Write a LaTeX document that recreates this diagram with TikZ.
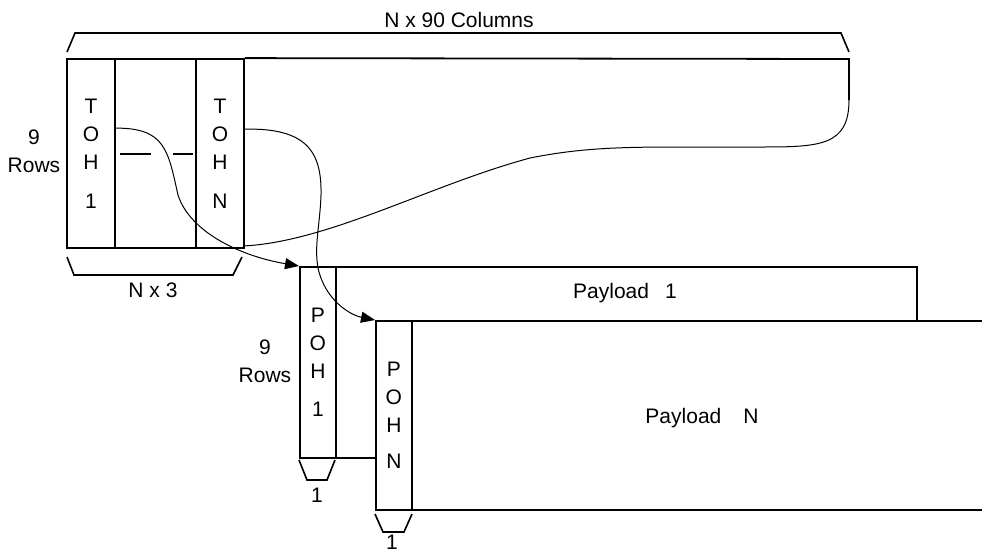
\documentclass[tikz,border=0pt]{standalone}
\usepackage{fontspec}
\setmainfont{Liberation Sans}
\usetikzlibrary{arrows.meta}
\begin{document}
\begin{tikzpicture}[x=1pt,y=-1pt,
  box/.style={draw,line width=1.8pt,inner sep=0pt},
  lbl/.style={font=\fontsize{21}{28}\selectfont,inner sep=0pt,align=center},
  brk/.style={line width=1.6pt},
  link/.style={line width=1pt},
  arr/.style={link,-{Triangle[length=14pt,width=11pt]}}]
\useasboundingbox (0,0) rectangle (982,552);
% ---- TOH block ----
\node[box,minimum width=177pt,minimum height=189pt] (toh) at (155.5,153.5) {};
\node[box,lbl,minimum width=48pt,minimum height=189pt] (toh1) at (91,153.5) {T\\O\\H\\[11pt]1};
\node[box,lbl,minimum width=48pt,minimum height=189pt] (tohn) at (220,153.5) {T\\O\\H\\[11pt]N};
\coordinate (frtr) at (849,59);
\coordinate (frr) at (849,100);
\draw[line width=1.8pt] (tohn.north east) -- (frtr) -- (frr);
\draw[link] (frr) .. controls (849,146) and (820,147) .. (760,147) -- (680,147)
  .. controls (620,147) and (580,148) .. (530,158)
  .. controls (430,185) and (330,241) .. ([yshift=3pt]tohn.south east);
% dashes
\draw[line width=1.8pt] (120,154) -- (151,154) (173,154) -- (193,154);
% brackets
\draw[brk] (67,52) -- (75,33) -- (841,33) -- (849,52);
\node[lbl] (cols) at (459,20) {N x 90 Columns};
\draw[brk] (67,257) -- (74,275) -- (233,275) -- (242,257);
\node[lbl] (nx3) at (153,290) {N x 3};
\node[lbl] (rows1) at (34,151) {9\\Rows};
% ---- payloads ----
\node[box,anchor=north west,minimum width=617pt,minimum height=191pt] (pl1) at (299,266) {};
\node[box,lbl,anchor=north west,minimum width=36pt,minimum height=191pt] (poh1) at (299,266) {P\\O\\H\\[10pt]1};
\node[box,fill=white,anchor=north west,minimum width=640pt,minimum height=189pt] (pln) at (375,320) {};
\node[box,lbl,anchor=north west,minimum width=36pt,minimum height=189pt] (pohn) at (375,320) {P\\O\\H\\[8pt]N};
\node[lbl] (pl1t) at (625,293) {Payload\hspace{16pt}1};
\node[lbl] (plnt) at (702,418) {Payload\hspace{22pt}N};
\node[lbl] (rows2) at (265,361.5) {9\\Rows};
\draw[brk] (299,460) -- (307,480) -- (327,480) -- (335,460);
\node[lbl] (one1) at (317,495) {1};
\draw[brk] (375,514) -- (383,532) -- (404,532) -- (412,514);
\node[lbl] (one2) at (392,542) {1};
% ---- connectors ----
\draw[arr] ([yshift=-70pt]toh1.north east) .. controls (165,128) and (168,150) .. (178,195)
  .. controls (190,232) and (240,256) .. (poh1.north west);
\draw[arr] ([yshift=-71pt]tohn.north east) .. controls (305,128) and (322,150) .. (321,195)
  .. controls (320,225) and (314,245) .. (318,268)
  .. controls (325,300) and (350,315) .. (pohn.north west);
\end{tikzpicture}
\end{document}
